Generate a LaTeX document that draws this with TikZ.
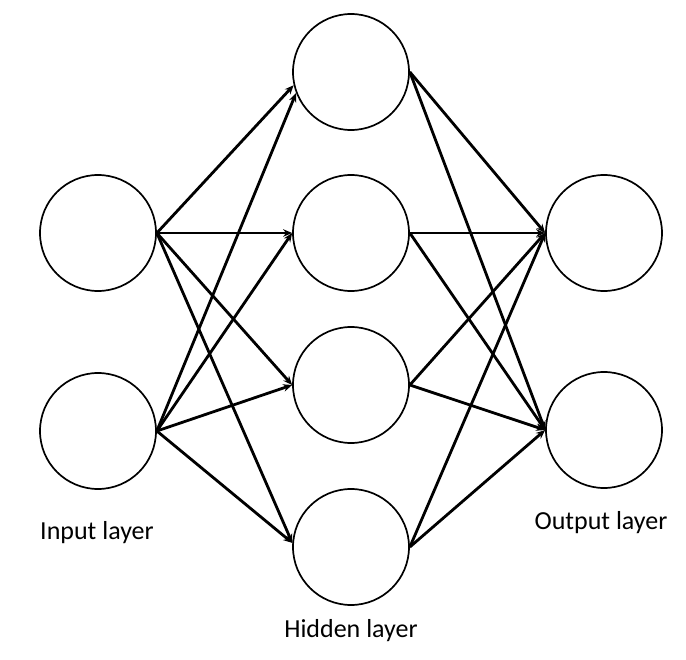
\documentclass[tikz,border=0pt]{standalone}
\usepackage{fontspec}
\setmainfont{Carlito}
\usetikzlibrary{arrows.meta}
\begin{document}
\begin{tikzpicture}[x=1pt,y=-1pt,
  neuron/.style={circle,draw=black,line width=1.7pt,minimum size=116pt,inner sep=0pt},
  conn/.style={line width=2.8pt,-{Stealth[length=9pt,width=7.5pt]}},
  lbl/.style={font=\fontsize{26}{30}\selectfont,inner sep=0pt}]
\useasboundingbox (0,0) rectangle (686,660);
\node[neuron] (i1) at (98,233) {};
\node[neuron] (i2) at (98,431) {};
\node[neuron] (h1) at (351,72) {};
\node[neuron] (h2) at (351,233) {};
\node[neuron] (h3) at (351,385) {};
\node[neuron] (h4) at (351,547) {};
\node[neuron] (o1) at (604,233) {};
\node[neuron] (o2) at (604,430) {};
\node[lbl] (li) at (97,533) {Input layer};
\node[lbl] (lh) at (351,631) {Hidden layer};
\node[lbl] (lo) at (601,523) {Output layer};
\draw[conn] (i1.east) -- (h1.193);
\draw[conn] (i2.east) -- (h1.201);
\foreach \h in {h2,h3} {
  \draw[conn] (i1.east) -- (\h.west);
  \draw[conn] (i2.east) -- (\h.west);
}
\draw[conn] (i1.east) -- (h4.176);
\draw[conn] (i2.east) -- (h4.176);
\foreach \h in {h1,h2,h3,h4} {
  \draw[conn] (\h.east) -- (o1.west);
  \draw[conn] (\h.east) -- (o2.west);
}
\end{tikzpicture}
\end{document}
